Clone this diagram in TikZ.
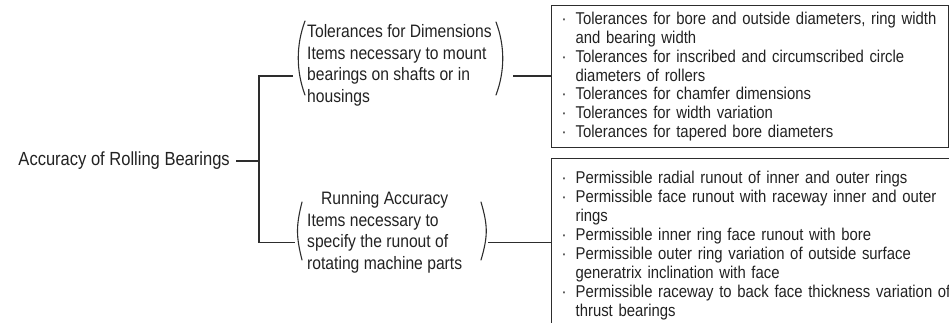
\documentclass[tikz,border=0pt]{standalone}
\usepackage{fontspec}
\setmainfont{Liberation Sans}[FakeStretch=0.87]
\usetikzlibrary{positioning,calc}
\definecolor{bearink}{RGB}{34,34,34}
\definecolor{bearline}{RGB}{45,45,45}
\tikzset{
  roottext/.style={text=bearink, inner xsep=6pt, inner ysep=0pt,
    font=\fontsize{19}{21}\selectfont},
  grouptext/.style={text=bearink, inner sep=0pt,
    font=\fontsize{18}{21.5}\selectfont},
  listbox/.style={draw=bearline, line width=1.3pt, text=bearink,
    inner xsep=10pt, inner ysep=0pt, align=left,
    font=\fontsize{17.1}{18.9}\selectfont},
  linkline/.style={draw=bearline, line width=1.5pt},
  parenline/.style={draw=bearline, line width=1.1pt, line cap=round},
}
\newcommand{\itembullet}{\makebox[14pt][l]{\textperiodcentered}}
\newcommand{\itemcont}{\hspace*{14pt}}
% tall bracket: tip x, top y, bottom y, bulge
\newcommand{\groupparen}[4]{%
  \draw[parenline] (#1,#2) .. controls ($(#1,#2)+(#4,24)$) and ($(#1,#3)+(#4,-24)$) .. (#1,#3);}

\begin{document}
\begin{tikzpicture}[x=1pt, y=-1pt]
  \useasboundingbox (0,0) rectangle (949,322);
  \clip (0,0) rectangle (949,322);
  % root
  \node[roottext, anchor=east] (root) at (236,161) {Accuracy of Rolling Bearings};
  % two groups
  \node[grouptext, anchor=west] (dims) at (307,65.5) {%
    \begin{tabular}{@{}l@{}}
      Tolerances for Dimensions\\
      Items necessary to mount\\
      bearings on shafts or in\\
      housings
    \end{tabular}};
  \node[grouptext, anchor=west] (run) at (307,232.5) {%
    \begin{tabular}{@{}l@{}}
      \multicolumn{1}{@{}c@{}}{Running Accuracy}\\
      Items necessary to\\
      specify the runout of\\
      rotating machine parts
    \end{tabular}};
  \groupparen{305}{21}{95}{-9}
  \groupparen{496}{22}{95}{9}
  \groupparen{302}{202}{260}{-6}
  \groupparen{481}{202}{260}{7}
  % item lists
  \node[listbox, anchor=north west, text width=377pt, minimum height=142pt] (dimslist) at (551,5) {%
    \itembullet Tolerances for bore and outside diameters, ring width\\
    \itemcont and bearing width\\
    \itembullet Tolerances for inscribed and circumscribed circle\\
    \itemcont diameters of rollers\\
    \itembullet Tolerances for chamfer dimensions\\
    \itembullet Tolerances for width variation\\
    \itembullet Tolerances for tapered bore diameters};
  \node[listbox, anchor=north west, text width=400pt, minimum height=174pt] (runlist) at (551,158) {%
    \itembullet Permissible radial runout of inner and outer rings\\
    \itembullet Permissible face runout with raceway inner and outer\\
    \itemcont rings\\
    \itembullet Permissible inner ring face runout with bore\\
    \itembullet Permissible outer ring variation of outside surface\\
    \itemcont generatrix inclination with face\\
    \itembullet Permissible raceway to back face thickness variation of\\
    \itemcont thrust bearings};
  % connectors
  \coordinate (trunk) at (259,161);
  \coordinate (dimsin) at (293,76);
  \coordinate (runin) at (295,242.5);
  \draw[linkline] (root.east) -- (trunk);
  \draw[linkline] (dimsin) -| (trunk) |- (runin);
  \draw[linkline] (513,76) -- (dimslist.west |- 0,76);
  \draw[linkline] (488,242.5) -- (runlist.west |- 0,242.5);
\end{tikzpicture}
\end{document}
